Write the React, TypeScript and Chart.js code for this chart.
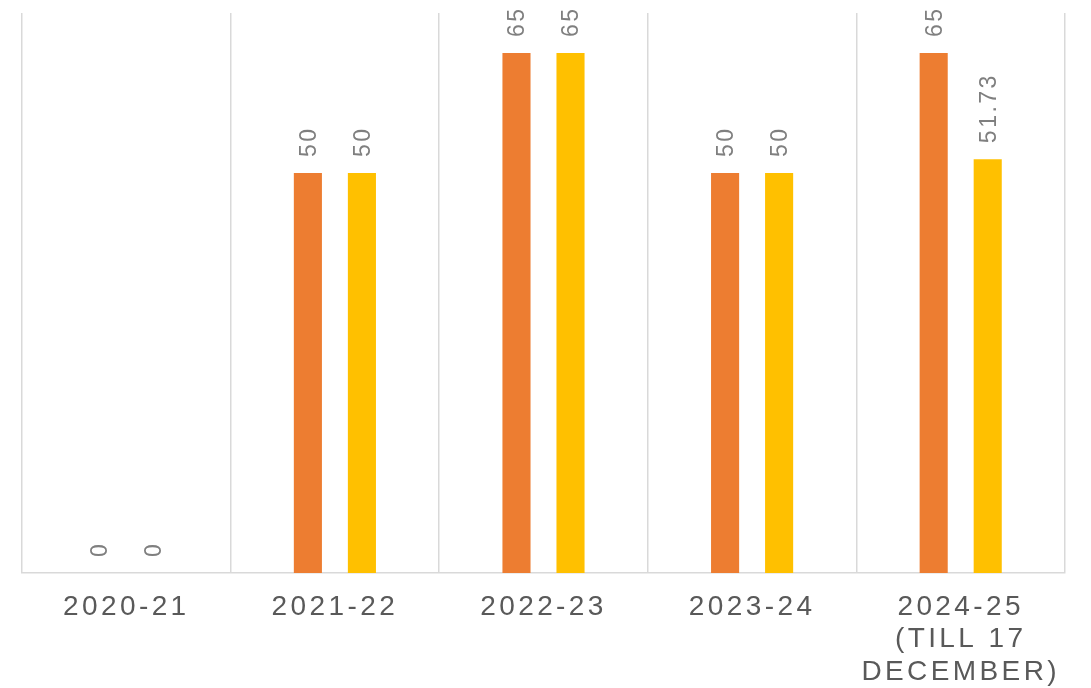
import React, { useEffect, useRef } from "react";
import { Chart, registerables } from "chart.js";

Chart.register(...registerables);

const categories: (string | string[])[] = [
  "2020-21",
  "2021-22",
  "2022-23",
  "2023-24",
  ["2024-25", "(TILL 17", "DECEMBER)"],
];
const seriesA: number[] = [0, 50, 65, 50, 65];
const seriesB: number[] = [0, 50, 65, 50, 51.73];
const seriesNames: string[] = ["Series A", "Series B"];
const yMin = 0;
const yMax = 70;

const FONT = "'Liberation Sans', Arial, sans-serif";

const letterSpacingPlugin = {
  id: "letterSpacing",
  beforeDraw(chart: any) {
    const ctx = chart.ctx as any;
    ctx.letterSpacing = "3.4px";
  },
};

const dataLabelPlugin = {
  id: "dataLabels",
  afterDatasetsDraw(chart: any) {
    const ctx = chart.ctx as any;
    chart.data.datasets.forEach((ds: any, di: number) => {
      const meta = chart.getDatasetMeta(di);
      meta.data.forEach((el: any, i: number) => {
        const v = ds.data[i];
        const { x, y } = el.getProps(["x", "y"], true);
        ctx.save();
        ctx.letterSpacing = "2.5px";
        ctx.font = `23px ${FONT}`;
        ctx.fillStyle = "#7f7f7f";
        ctx.translate(x + 1.5, y - 16);
        ctx.rotate(-Math.PI / 2);
        ctx.textAlign = "left";
        ctx.textBaseline = "middle";
        ctx.fillText(String(v), 0, 0);
        ctx.restore();
      });
    });
  },
};

export default function App() {
  const ref = useRef<HTMLCanvasElement | null>(null);
  useEffect(() => {
    if (!ref.current) return;
    const chart = new Chart(ref.current, {
      type: "bar",
      data: {
        labels: categories,
        datasets: [
          {
            label: seriesNames[0],
            data: seriesA,
            backgroundColor: "#ED7D31",
            borderWidth: 0,
            categoryPercentage: 0.518,
            barPercentage: 0.52,
          },
          {
            label: seriesNames[1],
            data: seriesB,
            backgroundColor: "#FFC000",
            borderWidth: 0,
            categoryPercentage: 0.518,
            barPercentage: 0.52,
          },
        ],
      },
      options: {
        animation: false,
        responsive: true,
        maintainAspectRatio: false,
        layout: { padding: { top: 13, left: 22, right: 26, bottom: 0 } },
        plugins: {
          legend: { display: false },
          tooltip: { enabled: false },
        },
        scales: {
          x: {
            grid: {
              offset: true,
              color: "#d9d9d9",
              lineWidth: 1.5,
              drawTicks: false,
            },
            border: { display: true, color: "#d9d9d9", width: 1.5 },
            ticks: {
              autoSkip: false,
              maxRotation: 0,
              minRotation: 0,
              padding: 18,
              color: "#595959",
              font: { family: FONT, size: 28, lineHeight: 1.16 },
            },
            afterFit(scale: any) {
              scale.height = 115;
            },
          },
          y: {
            display: false,
            min: yMin,
            max: yMax,
          },
        },
      },
      plugins: [letterSpacingPlugin, dataLabelPlugin],
    } as any);
    return () => chart.destroy();
  }, []);
  return (
    <div
      style={{
        position: "fixed",
        left: 0,
        top: 0,
        width: 1091,
        height: 688,
        background: "#ffffff",
      }}
    >
      <canvas ref={ref} />
    </div>
  );
}
